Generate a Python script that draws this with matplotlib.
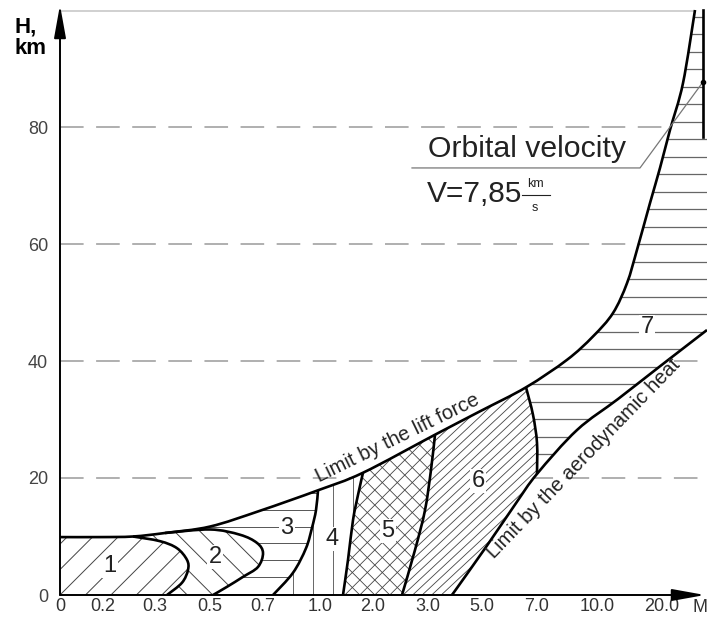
import numpy as np
import matplotlib.pyplot as plt
from matplotlib.path import Path
from matplotlib.patches import PathPatch
from matplotlib.collections import LineCollection

plt.rcParams['font.family'] = ['Liberation Sans', 'DejaVu Sans']
plt.rcParams['lines.scale_dashes'] = False

# axis ticks (x = position along the drawn M axis)
m_labels = ['0', '0.2', '0.3', '0.5', '0.7', '1.0', '2.0', '3.0', '5.0', '7.0', '10.0', '20.0']
m_pos = [0, 4.3, 9.5, 15.0, 20.3, 26.0, 31.3, 36.8, 42.2, 47.7, 53.7, 60.2]
h_ticks = [0, 20, 40, 60, 80]

# limit by the lift force (upper edge of all regions)
lift_x = [0, 4.0, 7.3, 10.5, 15.0, 20.0, 25.8, 30.3, 37.5, 42.0, 46.6, 50.7, 53.3,
          55.3, 56.7, 57.7, 59.0, 60.0, 61.0, 62.3, 63.5]
lift_h = [9.9, 9.9, 10.0, 10.6, 11.7, 14.4, 17.9, 20.9, 27.4, 31.4, 35.5, 40.2, 44.2,
          48.2, 53.3, 59.0, 67.0, 73.0, 79.5, 87.5, 100.0]

# region borders
c1_x = [7.3, 10.0, 11.7, 12.7, 12.8, 12.2, 10.7]
c1_h = [10.0, 9.2, 8.0, 6.0, 4.3, 2.1, 0]
c2_x = [10.5, 15.0, 18.0, 19.7, 20.3, 19.8, 18.3, 16.7, 15.3]
c2_h = [10.6, 11.2, 10.3, 8.9, 7.2, 4.8, 3.1, 1.4, 0]
b34_x = [25.8, 25.6, 25.2, 24.6, 23.3, 21.3]
b34_h = [17.9, 14.5, 11.5, 8.0, 3.8, 0]
b45_x = [30.3, 29.8, 29.3, 28.8, 28.3]
b45_h = [20.9, 17.1, 12.8, 6.0, 0]
b56_x = [37.5, 37.1, 36.5, 35.5, 34.2]
b56_h = [27.4, 21.4, 14.5, 7.7, 0]
b67_x = [46.6, 47.3, 47.7, 47.7]
b67_h = [35.5, 30.8, 26.0, 20.7]

# limit by the aerodynamic heat
heat_x = [39.2, 42.6, 45.6, 47.7, 51.7, 55.8, 60.0, 64.7]
heat_h = [0, 8.2, 15.7, 20.7, 28.2, 33.5, 39.1, 45.3]

lift = np.column_stack([lift_x, lift_h])
c1 = np.column_stack([c1_x, c1_h])
c2 = np.column_stack([c2_x, c2_h])
b34 = np.column_stack([b34_x, b34_h])
b45 = np.column_stack([b45_x, b45_h])
b56 = np.column_stack([b56_x, b56_h])
b67 = np.column_stack([b67_x, b67_h])
heat = np.column_stack([heat_x, heat_h])

# pixel scale of the data units
SX, SY = 10.0, 5.85

fig = plt.figure(figsize=(7.07, 6.24), dpi=100)
ax = fig.add_axes([60 / 707, 29 / 624, 647 / 707, 590 / 624])
ax.set_xlim(0, 64.7)
ax.set_ylim(0, 590 / SY)
for s in ax.spines.values():
    s.set_visible(False)


def seg(pts, i0, i1):
    # smooth bezier pieces through pts[i0..i1]
    step = 1 if i1 > i0 else -1
    n = len(pts)
    out = []
    for i in range(i0, i1, step):
        j = i + step
        a = pts[min(max(i - step, 0), n - 1)]
        d = pts[min(max(j + step, 0), n - 1)]
        b, c = pts[i], pts[j]
        out += [b + (c - a) / 6, c - (d - b) / 6, c]
    return out


def region(*pieces):
    verts, codes = [], []
    for p in pieces:
        if len(p) == 3:
            pts, i0, i1 = p
            verts.append(pts[i0]); codes.append(Path.LINETO)
            v = seg(pts, i0, i1)
            verts += v
            codes += [Path.CURVE4] * len(v)
        else:
            verts.append(np.array(p, float)); codes.append(Path.LINETO)
    codes[0] = Path.MOVETO
    verts.append(verts[0]); codes.append(Path.CLOSEPOLY)
    return Path(np.array(verts, float), codes)


def curve(pts):
    v = seg(pts, 0, len(pts) - 1)
    return Path(np.array([pts[0]] + v), [Path.MOVETO] + [Path.CURVE4] * len(v))


def hatch(path, angle, spacing, offset=0.0, color='#444444', lw=0.7):
    patch = PathPatch(path, fc='white', ec='none', zorder=2)
    ax.add_patch(patch)
    th = np.radians(angle)
    d = np.array([np.cos(th), np.sin(th)])
    nv = np.array([-np.sin(th), np.cos(th)])
    px = path.vertices * [SX, SY]
    c = px @ nv
    k0 = np.floor((c.min() - offset) / spacing)
    k1 = np.ceil((c.max() - offset) / spacing)
    segs = []
    for k in np.arange(k0, k1 + 1):
        cc = offset + k * spacing
        p0 = nv * cc - d * 3000
        p1 = nv * cc + d * 3000
        segs.append([(p0[0] / SX, p0[1] / SY), (p1[0] / SX, p1[1] / SY)])
    lc = LineCollection(segs, colors=color, linewidths=lw, zorder=3)
    ax.add_collection(lc)
    lc.set_clip_path(patch)


# dashed height lines
for h in h_ticks[1:]:
    ax.plot([0, 64.7], [h, h], color='#9a9a9a', lw=1.1, dashes=(17, 9), zorder=1)
ax.plot([0, 63.4], [99.8, 99.8], color='#c8c8c8', lw=1.2, zorder=1)

n_l = len(lift) - 1
r1 = region((0, 0), (lift, 0, 2), (c1, 0, len(c1) - 1))
r2 = region((lift, 2, 3), (c2, 0, len(c2) - 1), (c1, len(c1) - 1, 0))
r3 = region((lift, 3, 6), (b34, 0, len(b34) - 1), (c2, len(c2) - 1, 0))
r4 = region((lift, 6, 7), (b45, 0, len(b45) - 1), (b34, len(b34) - 1, 0))
r5 = region((lift, 7, 8), (b56, 0, len(b56) - 1), (b45, len(b45) - 1, 0))
r6 = region((lift, 8, 10), (b67, 0, len(b67) - 1), (heat, 3, 0), (b56, len(b56) - 1, 0))
r7 = region((lift, 10, n_l), (64.3, 100.0), (64.3, 78.3), (64.7, 78.3),
            (heat, len(heat) - 1, 3), (b67, len(b67) - 1, 0))

hatch(r1, 45, 18)
hatch(r2, 135, 18)
hatch(r3, 0, 16.7, offset=3.1 * SY, color='#555555')
hatch(r4, 90, 20, offset=-233, color='#666666')
hatch(r5, 45, 10.6, lw=0.6)
hatch(r5, 135, 10.6, lw=0.6)
hatch(r6, 43, 6.5, lw=0.6)
hatch(r7, 0, 17.5, offset=45.0 * SY, color='#666666', lw=0.9)

for pts in [lift, c1, c2, b34, b45, b56, b67, heat]:
    ax.add_patch(PathPatch(curve(pts), fc='none', ec='black', lw=1.9, zorder=4))
ax.plot([64.3, 64.3], [78.3, 100.0], color='black', lw=1.9, zorder=4)

# orbital velocity note
ax.plot([35.2, 58.0, 64.3], [73.0, 73.0, 87.7], color='#777777', lw=0.9, zorder=4)
ax.plot([64.3], [87.7], 'o', color='black', ms=3, zorder=5)
ax.text(36.8, 74.9, 'Orbital velocity', fontsize=21.8, color='#222222', va='baseline', zorder=5)
ax.text(36.7, 67.2, 'V=7,85', fontsize=21.5, color='#222222', va='baseline', zorder=5)
ax.text(47.5, 69.7, 'km', fontsize=9, color='#222222', ha='center', va='baseline', zorder=5)
ax.text(47.5, 65.6, 's', fontsize=9, color='#222222', ha='center', va='baseline', zorder=5)
ax.plot([46.2, 49.0], [68.4, 68.4], color='#222222', lw=0.8, zorder=5)

# region numbers
region_labels = ['1', '2', '3', '4', '5', '6', '7']
label_x = [5.0, 15.5, 22.7, 27.2, 32.8, 41.8, 58.7]
label_h = [4.9, 6.5, 11.5, 9.6, 10.9, 19.5, 45.8]
for t, x, h in zip(region_labels, label_x, label_h):
    ax.text(x, h, t, fontsize=17, color='#222222', ha='center', va='center', zorder=5,
            bbox=dict(fc='white', ec='none', pad=0.6))

ax.text(33.8, 26.9, 'Limit by the lift force', fontsize=14.5, color='#222222', rotation=26,
        rotation_mode='anchor', ha='center', va='center', zorder=5)
ax.text(52.4, 23.4, 'Limit by the aerodynamic heat', fontsize=14.5, color='#222222', rotation=46,
        rotation_mode='anchor', ha='center', va='center', zorder=5)

# axes with arrows
arrow = dict(arrowstyle='-|>,head_length=1.0,head_width=0.18', color='black', lw=1.4,
             mutation_scale=20, shrinkA=0, shrinkB=0)
ax.annotate('', xy=(0, 590 / SY), xytext=(0, 0), arrowprops=arrow, annotation_clip=False, zorder=6)
ax.annotate('', xy=(64.5, 0), xytext=(0, 0), arrowprops=arrow, annotation_clip=False, zorder=6)

ax.set_xticks(m_pos, m_labels)
ax.set_yticks(h_ticks)
ax.tick_params(axis='x', length=0, pad=2, labelsize=13, labelcolor='#333333')
ax.tick_params(axis='y', length=0, pad=8.5, labelsize=13, labelcolor='#444444')
ax.text(64.0, -12 / SY, 'M', fontsize=13, color='#333333', ha='center', va='center', clip_on=False)

fig.text(15 / 707, 1 - 27 / 624, 'H,', fontsize=16, fontweight='bold', ha='left', va='center')
fig.text(15 / 707, 1 - 48 / 624, 'km', fontsize=16, fontweight='bold', ha='left', va='center')

plt.savefig('out.png', dpi=100)
